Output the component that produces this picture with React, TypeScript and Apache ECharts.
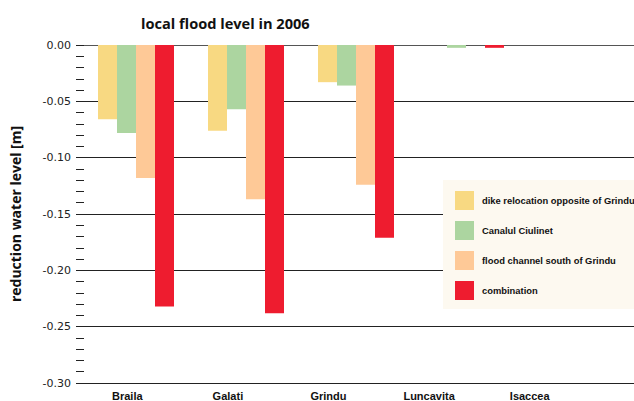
import React, { useEffect, useRef } from "react";
import * as echarts from "echarts";

const categories = ["Braila", "Galati", "Grindu", "Luncavita", "Isaccea"];
const seriesNames = [
  "dike relocation opposite of Grindu",
  "Canalul Ciulinet",
  "flood channel south of Grindu",
  "combination",
];
const dikeRelocation = [-0.066, -0.076, -0.033, 0, 0];
const canalulCiulinet = [-0.078, -0.057, -0.036, -0.0025, 0];
const floodChannel = [-0.118, -0.137, -0.124, 0, 0];
const combination = [-0.232, -0.238, -0.171, -0.0025, 0];
const seriesColors = ["#f8d982", "#acd5a0", "#fec997", "#ee1c2f"];
const yTicks = { min: -0.3, max: 0, interval: 0.05 };

export default function App() {
  const ref = useRef<HTMLDivElement>(null);
  useEffect(() => {
    if (!ref.current) return;
    const chart = echarts.init(ref.current, null, { renderer: "svg" });
    const values = [dikeRelocation, canalulCiulinet, floodChannel, combination];
    const legendShift = [
      [0, 0, 6, 3],
      [0, 0, 0, 3],
      [8, 0, 0, 3],
      [0, 0, 8, 3],
    ];
    chart.setOption({
      animation: false,
      backgroundColor: "#ffffff",
      title: {
        text: "local flood level in 2006",
        left: 136,
        top: 10,
        textStyle: {
          fontFamily: "Open Sans",
          fontWeight: "bold",
          fontSize: 14.6,
          color: "#111",
        },
      },
      legend: {
        orient: "vertical",
        left: 443,
        top: 180,
        padding: [11, 40, 9, 12],
        backgroundColor: "#fdf9f0",
        itemWidth: 19,
        itemHeight: 19,
        itemGap: 11,
        icon: "rect",
        textStyle: {
          fontFamily: "Liberation Sans",
          fontWeight: "bold",
          fontSize: 9.4,
          color: "#111",
        },
        data: seriesNames.map((n, i) => ({
          name: n,
          textStyle: { padding: legendShift[i] },
        })),
      },
      grid: [
        { left: 81, right: 3, top: 45, bottom: 18 },
        { left: 76, right: 0, top: 45, bottom: 18 },
        { left: 77, right: 54, top: 45, bottom: 18 },
      ],
      xAxis: [
        {
          type: "category",
          gridIndex: 0,
          data: categories,
          axisLine: { show: false },
          axisTick: { show: false },
          axisLabel: { show: false },
        },
        { type: "value", gridIndex: 1, show: false },
        {
          type: "category",
          gridIndex: 2,
          data: categories,
          axisLine: { show: false },
          axisTick: { show: false },
          axisLabel: {
            margin: 7,
            fontFamily: "Liberation Sans",
            fontWeight: "bold",
            fontSize: 11,
            color: "#111",
          },
        },
      ],
      yAxis: [
        { type: "value", gridIndex: 0, ...yTicks, show: false },
        {
          type: "value",
          gridIndex: 1,
          ...yTicks,
          name: "reduction water level [m]",
          nameLocation: "middle",
          nameGap: 54,
          nameTextStyle: {
            fontFamily: "Open Sans",
            fontWeight: "bold",
            fontSize: 14,
            color: "#111",
          },
          axisLine: { show: false },
          axisTick: {
            show: true,
            inside: true,
            length: 8,
            lineStyle: { color: "#222", width: 1 },
          },
          minorTick: {
            show: true,
            splitNumber: 5,
            length: 8,
            lineStyle: { color: "#222", width: 1 },
          },
          splitLine: {
            show: true,
            lineStyle: {
              color: ["#222", "#222", "#222", "#222", "#222", "#222", "#555"],
              width: 1,
            },
          },
          axisLabel: {
            margin: 5,
            fontFamily: "DejaVu Sans",
            fontSize: 11,
            color: "#222",
            formatter: (v: number) => (Math.abs(v) < 1e-9 ? "0.00" : v.toFixed(2)),
          },
        },
        { type: "value", gridIndex: 2, ...yTicks, show: false },
      ],
      series: seriesNames.map((n, i) => ({
        name: n,
        type: "bar",
        xAxisIndex: 0,
        yAxisIndex: 0,
        data: values[i],
        barWidth: 19,
        barGap: "0%",
        itemStyle: { color: seriesColors[i] },
      })),
    });
    return () => chart.dispose();
  }, []);
  return (
    <div
      ref={ref}
      style={{ position: "fixed", left: 0, top: 0, width: 634, height: 401 }}
    />
  );
}
